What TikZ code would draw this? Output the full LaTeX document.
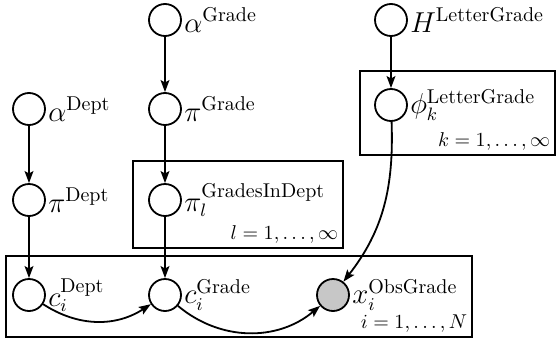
\documentclass[tikz,border=0pt]{standalone}
\usetikzlibrary{arrows.meta}
\newcommand{\suptxt}[1]{\mbox{\fontsize{10}{12}\selectfont #1}}
\begin{document}
\begin{tikzpicture}[x=0.5pt,y=-0.5pt,
  latent/.style={circle, draw, line width=0.9pt, minimum size=16pt, inner sep=0pt, label distance=5pt},
  obs/.style={latent, fill=black!22},
  edge/.style={-{Stealth[length=6pt,width=4.4pt,inset=1.2pt]}, line width=0.9pt},
  plate/.style={draw, line width=0.6pt, inner sep=0pt},
  platelbl/.style={anchor=south east, inner sep=2.5pt},
  every label/.style={font=\fontsize{13.5}{16}\selectfont, inner sep=1pt}]
\useasboundingbox (0,0) rectangle (557,338);
% plates
\node[plate, minimum width=466*0.5pt, minimum height=81*0.5pt] (plI) at (239,296.5) {};
\node[plate, minimum width=210*0.5pt, minimum height=87*0.5pt] (plL) at (238,204.5) {};
\node[plate, minimum width=195*0.5pt, minimum height=84*0.5pt] (plK) at (457.5,113) {};
\node[platelbl] (lI) at (plI.south east) {$i=1,\ldots,N$};
\node[platelbl] (lL) at (plL.south east) {$l=1,\ldots,\infty$};
\node[platelbl] (lK) at (plK.south east) {$k=1,\ldots,\infty$};
% nodes
\node[latent, label={right:$\alpha^{\suptxt{Dept}}$}] (aD) at (29,109) {};
\node[latent, label={right:$\pi^{\suptxt{Dept}}$}] (pD) at (29,200) {};
\node[latent, label={right:$c_i^{\suptxt{Dept}}$}] (cD) at (29,295) {};
\node[latent, label={right:$\alpha^{\suptxt{Grade}}$}] (aG) at (165,20) {};
\node[latent, label={right:$\pi^{\suptxt{Grade}}$}] (pG) at (165,109) {};
\node[latent, label={right:$\pi_l^{\suptxt{GradesInDept}}$}] (pGD) at (165,200) {};
\node[latent, label={right:$c_i^{\suptxt{Grade}}$}] (cG) at (165,295) {};
\node[obs, label={right:$x_i^{\suptxt{ObsGrade}}$}] (x) at (333,295) {};
\node[latent, label={right:$H^{\suptxt{LetterGrade}}$}] (H) at (391,20) {};
\node[latent, label={right:$\phi_k^{\suptxt{LetterGrade}}$}] (phi) at (391,105) {};
% edges
\draw[edge] (aD) -- (pD);
\draw[edge] (pD) -- (cD);
\draw[edge] (aG) -- (pG);
\draw[edge] (pG) -- (pGD);
\draw[edge] (pGD) -- (cG);
\draw[edge] (H) -- (phi);
\draw[edge] (phi) to[out=-88, in=52] (x);
\draw[edge] (cD) to[bend right=33] (cG);
\draw[edge] (cG) to[bend right=40] (x);
\end{tikzpicture}
\end{document}
